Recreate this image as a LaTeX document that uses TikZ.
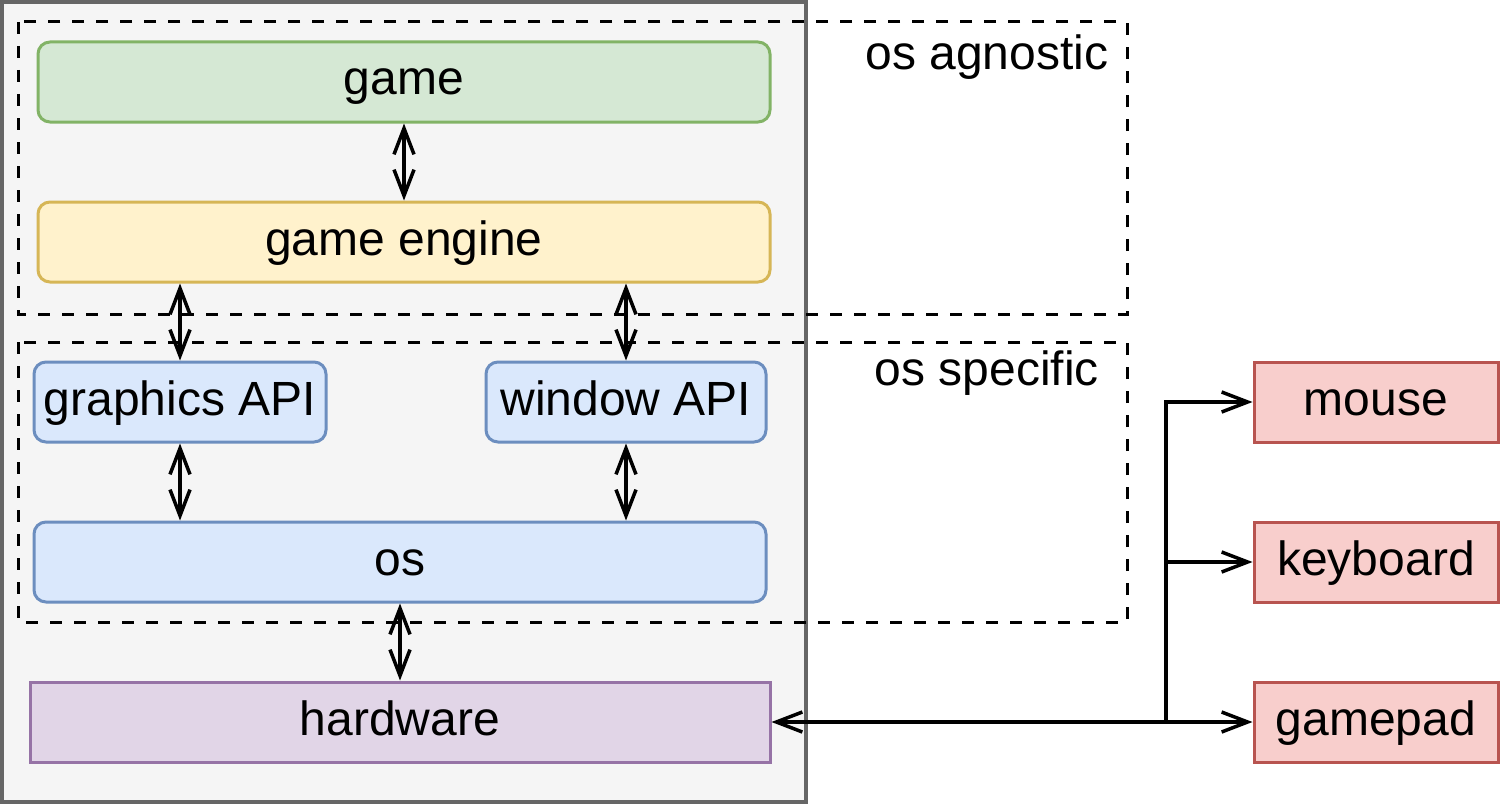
\documentclass[tikz,border=0pt]{standalone}
\usepackage{fontspec}
\setmainfont{Liberation Sans}
\usetikzlibrary{arrows.meta}
\definecolor{outerfill}{HTML}{F5F5F5}
\definecolor{outerdraw}{HTML}{666666}
\definecolor{gfill}{HTML}{D5E8D4}\definecolor{gdraw}{HTML}{82B366}
\definecolor{yfill}{HTML}{FFF2CC}\definecolor{ydraw}{HTML}{D6B656}
\definecolor{bfill}{HTML}{DAE8FC}\definecolor{bdraw}{HTML}{6C8EBF}
\definecolor{pfill}{HTML}{E1D5E7}\definecolor{pdraw}{HTML}{9673A6}
\definecolor{rfill}{HTML}{F8CECC}\definecolor{rdraw}{HTML}{B85450}
\tikzset{
  mytip/.tip={Straight Barb[length=26pt, width=20pt, line width=3.5pt]},
  txt/.style={font=\fontsize{48}{56}\selectfont, text height=34pt, text depth=8pt, inner sep=0pt},
  box/.style={txt, line width=3pt, minimum height=80pt, anchor=center},
  rbox/.style={box, rounded corners=12pt},
  greenbox/.style={rbox, fill=gfill, draw=gdraw},
  yellowbox/.style={rbox, fill=yfill, draw=ydraw},
  bluebox/.style={rbox, fill=bfill, draw=bdraw},
  purplebox/.style={box, fill=pfill, draw=pdraw},
  redbox/.style={box, fill=rfill, draw=rdraw},
  dashbox/.style={line width=3pt, dash pattern=on 12pt off 12pt},
  conn/.style={line width=3.5pt},
  biarr/.style={conn, {mytip}-{mytip}},
  endarr/.style={conn, -{mytip}},
}
\begin{document}
\begin{tikzpicture}[x=1pt,y=-1pt]
\useasboundingbox (0,0) rectangle (1500,808);
\path[fill=outerfill, draw=outerdraw, line width=4pt] (2,2) rectangle (806,802);
\draw[dashbox] (18,22) rectangle (1127,314);
\draw[dashbox] (18,342) rectangle (1127,622);
\node[txt] (agn) at (987,57) {os agnostic};
\node[txt] (spec) at (987,372) {os specific};
\node[greenbox, minimum width=732pt] (game) at (404,82) {game};
\node[yellowbox, minimum width=732pt] (engine) at (404,242) {game engine};
\node[bluebox, minimum width=292pt] (gapi) at (180,402) {graphics API};
\node[bluebox, minimum width=280pt] (wapi) at (626,402) {window API};
\node[bluebox, minimum width=732pt] (os) at (400,562) {os};
\node[purplebox, minimum width=740pt] (hw) at (400,722) {hardware};
\node[redbox, minimum width=244pt] (mouse) at (1376,402) {mouse};
\node[redbox, minimum width=244pt] (kbd) at (1376,562) {keyboard};
\node[redbox, minimum width=244pt] (pad) at (1376,722) {gamepad};
\draw[biarr] (game.south) -- (engine.north);
\draw[biarr] (engine.south -| gapi.north) -- (gapi.north);
\draw[biarr] (engine.south -| wapi.north) -- (wapi.north);
\draw[biarr] (gapi.south) -- (gapi.south |- os.north);
\draw[biarr] (wapi.south) -- (wapi.south |- os.north);
\draw[biarr] (os.south) -- (hw.north);
\coordinate (junc) at (1166,722);
\draw[endarr] (junc) -- (hw.east);
\draw[endarr] (junc) |- (mouse.west);
\draw[endarr] (junc |- kbd.west) -- (kbd.west);
\draw[endarr] (junc) -- (pad.west);
\end{tikzpicture}
\end{document}
